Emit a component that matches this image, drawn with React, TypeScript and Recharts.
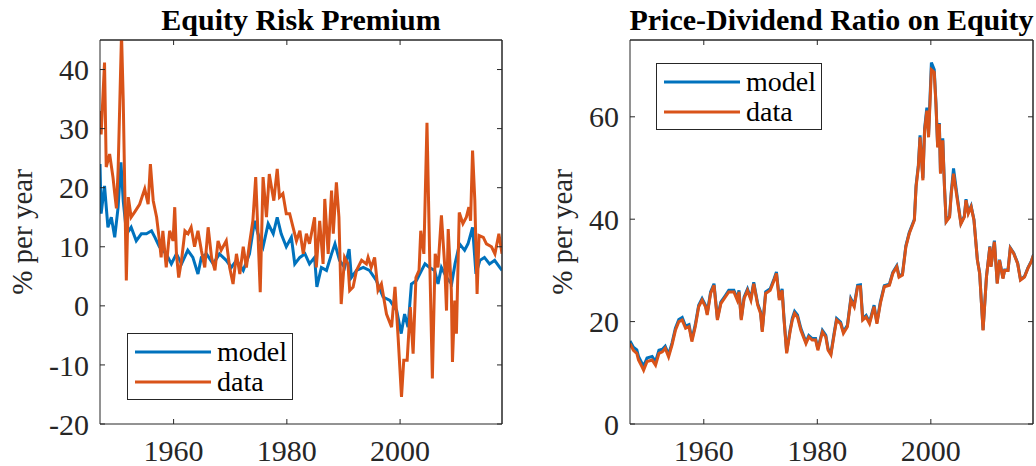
import { LineChart, Line, XAxis, YAxis, Label, ReferenceLine } from "recharts";

// [year, % per year]
const erpModel: [number, number][] = [
  [1947.0, 24], [1947.2, 15.6], [1947.8, 20.3], [1948.4, 13.3], [1949.0, 15], [1949.6, 11.6],
  [1950.2, 16.7], [1950.7, 24.3], [1951.1, 17.8], [1951.7, 12.2], [1952.5, 13.3], [1953.4, 11],
  [1954.3, 12.2], [1955.2, 12.2], [1956.1, 12.7], [1956.7, 11.6], [1957.5, 10], [1958.7, 8.8],
  [1959.6, 7.1], [1960.5, 8.8], [1961.4, 7.1], [1962.5, 9.4], [1963.4, 8.2], [1964.3, 5.4],
  [1964.9, 8.2], [1965.8, 8.8], [1967.0, 7.1], [1968.1, 8.8], [1969.3, 7.7], [1970.2, 6.5],
  [1971.1, 7.7], [1972.3, 6], [1973.4, 8.8], [1974.3, 14.4], [1974.9, 12.2], [1975.8, 10],
  [1976.7, 13.9], [1977.6, 12.2], [1978.3, 15], [1979.0, 12.2], [1979.9, 10], [1980.8, 11.6],
  [1981.4, 7.1], [1982.3, 8.2], [1983.2, 8.8], [1984.0, 7.1], [1984.9, 8.2], [1985.3, 3.2],
  [1986.1, 6.5], [1987.0, 6], [1987.9, 8.8], [1988.5, 10.5], [1989.3, 7.7], [1990.2, 6.5],
  [1991.0, 9.6], [1991.4, 4.8], [1992.3, 6], [1993.5, 6.5], [1994.6, 6], [1995.8, 4.3],
  [1997.0, 1.5], [1998.2, 0.9], [1999.4, -0.8], [2000.2, -4.7], [2000.8, -1.4], [2001.4, -3.6],
  [2002.0, 3.7], [2002.9, 4.3], [2003.8, 6], [2004.4, 7.1], [2005.2, 6.5], [2006.1, 6],
  [2006.7, 3.7], [2007.3, 6.5], [2008.2, 4.8], [2009.1, 3.7], [2009.7, 7.1], [2010.5, 10.5],
  [2011.4, 9.4], [2012.0, 10.5], [2012.8, 13.3], [2013.4, 5.4], [2014.1, 7.7], [2014.9, 8.2],
  [2015.8, 7.1], [2016.7, 7.7], [2017.6, 6.5], [2018.0, 6],
];

const erpData: [number, number][] = [
  [1947.0, 33], [1947.2, 29], [1947.8, 41.2], [1948.1, 23.5], [1948.7, 25.7], [1949.3, 21.7],
  [1949.6, 19], [1949.9, 16.5], [1950.2, 23], [1950.8, 46], [1951.1, 35], [1951.65, 4.3],
  [1952.0, 18.4], [1952.5, 15], [1953.2, 16], [1954.0, 17.2], [1954.9, 19.8], [1955.5, 17.2],
  [1955.9, 24], [1956.4, 17.8], [1957.0, 15], [1957.5, 11], [1957.8, 8.2], [1958.1, 12.7],
  [1958.7, 6.5], [1959.3, 12.7], [1959.9, 11], [1960.2, 16.7], [1960.5, 8.8], [1960.9, 4.8],
  [1961.4, 7.7], [1962.0, 12.7], [1962.55, 12.2], [1963.1, 13.3], [1963.7, 10], [1964.3, 12.7],
  [1964.9, 9.4], [1965.5, 6.5], [1966.1, 13.3], [1966.7, 8.2], [1967.3, 6], [1967.85, 11],
  [1968.4, 9.4], [1969.3, 11], [1969.9, 6.5], [1970.5, 3.7], [1971.1, 8.8], [1971.7, 5.4],
  [1972.3, 10], [1972.85, 6.5], [1973.4, 10.5], [1974.0, 14.4], [1974.5, 21.8], [1974.9, 12.2],
  [1975.3, 2.3], [1975.8, 21.8], [1976.4, 15], [1976.9, 22.3], [1977.3, 20], [1977.7, 17.8],
  [1978.3, 23.2], [1978.7, 18.4], [1979.3, 19], [1979.9, 15.6], [1980.5, 15.6], [1981.1, 13.3],
  [1981.7, 11], [1982.3, 12.7], [1982.9, 8.8], [1983.45, 12.2], [1984.0, 10.5], [1984.9, 15],
  [1985.2, 6.5], [1985.8, 14.4], [1986.4, 7.1], [1986.7, 18.1], [1987.3, 8.8], [1987.9, 19.5],
  [1988.2, 12.2], [1988.75, 20.9], [1989.2, 15], [1989.6, 0.3], [1990.2, 8.2], [1990.8, 7.1],
  [1991.1, 2.6], [1991.7, 3.2], [1992.3, 6], [1993.2, 7.7], [1994.05, 7.1], [1994.35, 8.2],
  [1994.9, 6.5], [1995.5, 8.2], [1996.1, 2.6], [1996.7, 3.7], [1997.6, -1.4], [1998.5, -3.6],
  [1999.1, 3.2], [1999.65, -5.3], [2000.25, -15.4], [2000.65, -9.2], [2001.25, -9.2], [2001.8, -0.2],
  [2002.3, -8.1], [2002.8, 4.8], [2003.35, 6], [2003.65, 12.7], [2004.2, 8.8], [2004.75, 31],
  [2005.25, 7.1], [2005.7, -12.3], [2006.2, 8.8], [2006.7, 6.5], [2007.3, 15.3], [2007.9, 6.5],
  [2008.2, -0.8], [2008.5, 13], [2009.05, 2.6], [2009.25, -9.5], [2009.65, 0.9], [2009.95, -4.7],
  [2010.45, 15.8], [2011.1, 13.9], [2011.7, 15], [2012.15, 16.7], [2012.45, 14.4], [2012.8, 26.3],
  [2013.2, 17.8], [2013.6, 2], [2013.95, 11.9], [2014.7, 11.6], [2015.25, 10.5], [2016.15, 10],
  [2016.75, 8.8], [2017.45, 12.2], [2018.0, 8.8],
];

const pdModel: [number, number][] = [
  [1947.0, 16.2], [1947.6, 15.0], [1948.2, 14.5], [1948.5, 13.2], [1949.1, 11.9], [1949.4, 11.3],
  [1950.0, 12.9], [1950.9, 13.2], [1951.5, 12.2], [1952.1, 14.4], [1952.7, 14.6], [1953.2, 15.2],
  [1953.8, 13.6], [1954.4, 15.8], [1955.0, 18.7], [1955.6, 20.4], [1956.2, 20.8], [1956.8, 19.1],
  [1957.4, 19.4], [1957.9, 16.5], [1958.5, 19.4], [1959.1, 23.2], [1959.7, 24.5], [1960.3, 23.2],
  [1960.6, 21.6], [1961.2, 25.8], [1961.8, 27.4], [1962.4, 20.6], [1963.0, 23.8], [1963.8, 25.1],
  [1964.4, 26.1], [1965.3, 26.1], [1965.9, 24.5], [1966.2, 26.1], [1966.6, 20.6], [1967.1, 24.8],
  [1967.7, 26.4], [1968.3, 24.5], [1968.8, 27.7], [1969.5, 23.5], [1970.0, 21.9], [1970.3, 18.3],
  [1970.9, 25.8], [1971.7, 26.4], [1972.4, 28.4], [1972.8, 29.7], [1973.3, 24.6], [1973.8, 26.4],
  [1974.1, 21.2], [1974.6, 14.1], [1975.2, 18.3], [1975.6, 20.7], [1976.0, 22.0], [1976.5, 21.3],
  [1977.1, 18.7], [1978.0, 16.0], [1978.5, 17.3], [1979.1, 16.7], [1979.7, 16.7], [1980.1, 14.7],
  [1980.9, 18.3], [1981.5, 17.3], [1981.9, 14.7], [1982.4, 13.8], [1983.0, 18.0], [1983.4, 20.6],
  [1984.1, 19.9], [1984.6, 18.0], [1985.3, 19.3], [1985.9, 24.5], [1986.5, 23.2], [1987.1, 27.1],
  [1987.6, 27.2], [1988.0, 20.6], [1988.6, 21.2], [1989.2, 19.9], [1990.0, 23.2], [1990.5, 19.8],
  [1991.1, 23.8], [1991.8, 27.0], [1992.7, 27.3], [1993.3, 29.6], [1994.0, 30.9], [1994.4, 28.9],
  [1995.0, 29.3], [1995.6, 34.8], [1996.2, 37.4], [1997.1, 40.0], [1997.4, 46.6], [1997.8, 50.5],
  [1998.1, 56.4], [1998.6, 48.0], [1998.9, 57.7], [1999.3, 61.8], [1999.6, 56.4], [2000.1, 70.6],
  [2000.6, 69.2], [2000.9, 62.8], [2001.2, 54.2], [2001.5, 58.8], [2001.7, 49.1], [2002.1, 55.8],
  [2002.4, 46.5], [2002.7, 39.6], [2003.3, 40.6], [2003.6, 45.3], [2004.0, 49.9], [2004.6, 44.8],
  [2005.3, 39.2], [2005.9, 40.6], [2006.2, 43.9], [2006.6, 41.3], [2007.1, 42.6], [2007.6, 39.9],
  [2008.2, 32.1], [2008.6, 29.5], [2009.2, 18.4], [2009.8, 28.8], [2010.4, 34.7], [2010.6, 30.8],
  [2011.2, 35.8], [2011.7, 27.5], [2012.1, 32.1], [2012.7, 28.5], [2013.0, 30.1], [2013.6, 30.1],
  [2014.0, 34.4], [2014.6, 33.4], [2015.3, 31.4], [2015.8, 28.2], [2016.5, 28.8], [2017.1, 30.5],
  [2017.7, 31.8], [2018.1, 33.1],
];

const pdData: [number, number][] = [
  [1947.0, 15.7], [1947.6, 14.4], [1948.2, 13.8], [1948.5, 12.5], [1949.1, 11.2], [1949.4, 10.5],
  [1950.0, 12.2], [1950.9, 12.5], [1951.5, 11.5], [1952.1, 13.8], [1952.7, 14.1], [1953.2, 14.8],
  [1953.8, 13.1], [1954.4, 15.4], [1955.0, 18.3], [1955.6, 20], [1956.2, 20.3], [1956.8, 18.7],
  [1957.4, 19], [1957.9, 16.1], [1958.5, 19], [1959.1, 22.9], [1959.7, 24.2], [1960.3, 22.9],
  [1960.6, 21.3], [1961.2, 25.5], [1961.8, 27.1], [1962.4, 20.3], [1963.0, 23.5], [1963.8, 24.8],
  [1964.4, 25.8], [1965.3, 25.8], [1965.9, 24.2], [1966.2, 25.8], [1966.6, 20.3], [1967.1, 24.5],
  [1967.7, 26.1], [1968.3, 24.2], [1968.8, 27.4], [1969.5, 23.2], [1970.0, 21.6], [1970.3, 18],
  [1970.9, 25.5], [1971.7, 26.1], [1972.4, 28.1], [1972.8, 29.4], [1973.3, 24.2], [1973.8, 26.1],
  [1974.1, 20.9], [1974.6, 13.8], [1975.2, 18], [1975.6, 20.3], [1976.0, 21.6], [1976.5, 20.9],
  [1977.1, 18.3], [1978.0, 15.7], [1978.5, 17], [1979.1, 16.4], [1979.7, 16.4], [1980.1, 14.4],
  [1980.9, 18], [1981.5, 17], [1981.9, 14.4], [1982.4, 13.5], [1983.0, 17.7], [1983.4, 20.3],
  [1984.1, 19.6], [1984.6, 17.7], [1985.3, 19], [1985.9, 24.2], [1986.5, 22.9], [1987.1, 26.8],
  [1987.6, 26.8], [1988.0, 20.3], [1988.6, 20.9], [1989.2, 19.6], [1990.0, 22.9], [1990.5, 19.6],
  [1991.1, 23.5], [1991.8, 26.8], [1992.7, 27.1], [1993.3, 29.4], [1994.0, 30.7], [1994.4, 28.7],
  [1995.0, 29.1], [1995.6, 34.6], [1996.2, 37.2], [1997.1, 39.8], [1997.4, 46.3], [1997.8, 50.2],
  [1998.1, 56], [1998.6, 47.6], [1998.9, 57.3], [1999.3, 61.2], [1999.6, 56], [2000.1, 69.2],
  [2000.6, 68.7], [2000.9, 62.5], [2001.2, 54], [2001.5, 58.6], [2001.7, 48.9], [2002.1, 55.4],
  [2002.4, 46.3], [2002.7, 39.5], [2003.3, 40.4], [2003.6, 45], [2004.0, 48.9], [2004.6, 44.3],
  [2005.3, 39.1], [2005.9, 40.4], [2006.2, 43.7], [2006.6, 41.1], [2007.1, 42.4], [2007.6, 39.8],
  [2008.2, 32], [2008.6, 29.4], [2009.2, 18.3], [2009.8, 28.7], [2010.4, 34.6], [2010.6, 30.7],
  [2011.2, 35.6], [2011.7, 27.4], [2012.1, 32], [2012.7, 28.4], [2013.0, 30], [2013.6, 30],
  [2014.0, 34.3], [2014.6, 33.3], [2015.3, 31.3], [2015.8, 28.1], [2016.5, 28.7], [2017.1, 30.4],
  [2017.7, 31.7], [2018.1, 33],
];

const yearTicks = [1960, 1980, 2000];
const erpTicks = [-20, -10, 0, 10, 20, 30, 40];
const pdTicks = [0, 20, 40, 60];
const seriesNames = ["model", "data"];

const toRows = (pts: [number, number][]) => pts.map(([year, value]) => ({ year, value }));

const FONT = '"Liberation Serif", "Times New Roman", serif';
const AXIS = "#262626";
const BLUE = "#0072BD";
const ORANGE = "#D95319";
const X_DOMAIN: [number, number] = [1947, 2018];

function LegendBox({ x, y }: { x: number; y: number }) {
  const colors = [BLUE, ORANGE];
  return (
    <svg width={166} height={67} style={{ position: "absolute", left: x, top: y }}>
      <rect x={0.5} y={0.5} width={165} height={66} fill="#fff" stroke={AXIS} strokeWidth={1} />
      {seriesNames.map((name, i) => (
        <g key={name}>
          <line x1={8} x2={84} y1={19 + i * 30} y2={19 + i * 30} stroke={colors[i]} strokeWidth={3} />
          <text x={90} y={28 + i * 30} fontFamily={FONT} fontSize={28} fill="#000">{name}</text>
        </g>
      ))}
    </svg>
  );
}

function Panel(props: {
  left: number; width: number; plotLeft: number; plotRight: number; labelX: number;
  title: string; model: [number, number][]; data: [number, number][];
  yDomain: [number, number]; yTicks: number[]; legendX: number; legendY: number;
}) {
  const { left, width, plotLeft, plotRight, labelX, title, model, data, yDomain, yTicks, legendX, legendY } = props;
  const height = 466;
  const axisCommon = { stroke: AXIS, tickLine: { stroke: AXIS }, axisLine: { stroke: AXIS } };
  return (
    <div style={{ position: "absolute", left, top: 0, width, height }}>
      <div
        style={{
          position: "absolute", top: 0, left: plotLeft - 150, width: plotRight - plotLeft + 300,
          textAlign: "center", fontFamily: FONT, fontWeight: "bold", fontSize: 30, lineHeight: "40px",
          color: "#000", whiteSpace: "nowrap",
        }}
      >
        {title}
      </div>
      <LineChart width={width} height={height} margin={{ top: 39, right: width - plotRight - 1, bottom: 0, left: 0 }}>
        <XAxis
          dataKey="year" type="number" domain={X_DOMAIN} allowDataOverflow ticks={yearTicks}
          tickSize={-5} tickMargin={21} height={42}
          tick={{ fill: AXIS, fontFamily: FONT, fontSize: 30 }} {...axisCommon}
        />
        <XAxis
          xAxisId="top" orientation="top" dataKey="year" type="number" domain={X_DOMAIN}
          allowDataOverflow ticks={yearTicks} tickSize={-5} height={1} tickFormatter={() => ""} {...axisCommon}
        />
        <YAxis
          type="number" domain={yDomain} allowDataOverflow ticks={yTicks} interval={0}
          tickSize={-5} tickMargin={16} width={plotLeft}
          tick={{ fill: AXIS, fontFamily: FONT, fontSize: 30 }} {...axisCommon}
        >
          <Label
            content={() => (
              <text
                x={labelX} y={232} transform={`rotate(-90 ${labelX} 232)`}
                textAnchor="middle" dominantBaseline="central" fontFamily={FONT} fontSize={29} fill={AXIS}
              >
                % per year
              </text>
            )}
          />
        </YAxis>
        <YAxis
          yAxisId="right" orientation="right" type="number" domain={yDomain} allowDataOverflow
          ticks={yTicks} interval={0} tickSize={-5} width={1} tickFormatter={() => ""} {...axisCommon}
        />
        <ReferenceLine y={yDomain[1]} stroke={AXIS} strokeWidth={1} />
        <ReferenceLine x={X_DOMAIN[1]} stroke={AXIS} strokeWidth={1} />
        <Line
          name={seriesNames[0]} data={toRows(model)} dataKey="value" type="linear" stroke={BLUE}
          strokeWidth={3} dot={false} isAnimationActive={false}
        />
        <Line
          name={seriesNames[1]} data={toRows(data)} dataKey="value" type="linear" stroke={ORANGE}
          strokeWidth={3} dot={false} isAnimationActive={false}
        />
      </LineChart>
      <LegendBox x={legendX} y={legendY} />
    </div>
  );
}

export default function App() {
  return (
    <div style={{ position: "absolute", left: 0, top: 0, width: 1036, height: 466, background: "#fff", overflow: "hidden" }}>
      <Panel
        left={0} width={520} plotLeft={100} plotRight={502} labelX={22} title="Equity Risk Premium"
        model={erpModel} data={erpData} yDomain={[-20, 45]} yTicks={erpTicks} legendX={127} legendY={333}
      />
      <Panel
        left={520} width={516} plotLeft={110} plotRight={513} labelX={42} title="Price-Dividend Ratio on Equity"
        model={pdModel} data={pdData} yDomain={[0, 75]} yTicks={pdTicks} legendX={136} legendY={63}
      />
    </div>
  );
}
